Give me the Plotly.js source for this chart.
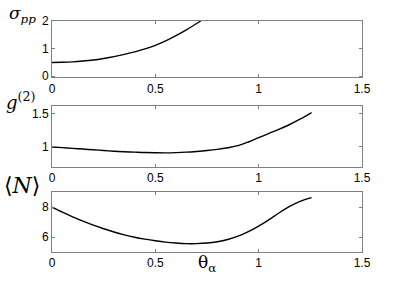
<!DOCTYPE html>
<html><head><meta charset="utf-8">
<script src="https://cdn.plot.ly/plotly-3.0.1.min.js"></script>
<style>html,body{margin:0;padding:0;background:#fff}#c{width:400px;height:284px}</style>
</head><body><div id="c"></div>
<script>
const thetaSigma = [0, 0.05, 0.1, 0.15, 0.2, 0.25, 0.3, 0.35, 0.4, 0.45, 0.5, 0.55, 0.6, 0.65, 0.7, 0.72];
const sigmaPP   = [0.5, 0.505, 0.52, 0.55, 0.59, 0.645, 0.71, 0.79, 0.88, 0.99, 1.12, 1.28, 1.47, 1.68, 1.91, 2.0];
const thetaG2   = [0, 0.05, 0.1, 0.15, 0.2, 0.25, 0.3, 0.35, 0.4, 0.45, 0.5, 0.55, 0.6, 0.65, 0.7, 0.75, 0.8, 0.85, 0.9, 0.95, 1.0, 1.05, 1.1, 1.15, 1.2, 1.256];
const g2        = [1.0, 0.99, 0.979, 0.968, 0.957, 0.946, 0.936, 0.928, 0.921, 0.915, 0.912, 0.911, 0.914, 0.921, 0.932, 0.946, 0.964, 0.988, 1.02, 1.075, 1.14, 1.205, 1.27, 1.34, 1.42, 1.52];
const thetaN    = [0, 0.05, 0.1, 0.15, 0.2, 0.25, 0.3, 0.35, 0.4, 0.45, 0.5, 0.55, 0.6, 0.65, 0.7, 0.75, 0.8, 0.85, 0.9, 0.95, 1.0, 1.05, 1.1, 1.15, 1.2, 1.256];
const meanN     = [8.0, 7.67, 7.36, 7.07, 6.8, 6.56, 6.34, 6.15, 5.99, 5.86, 5.75, 5.66, 5.6, 5.56, 5.56, 5.6, 5.69, 5.84, 6.06, 6.37, 6.74, 7.17, 7.63, 8.05, 8.39, 8.64];
const xTicks = [0, 0.5, 1, 1.5];
const xTickText = ['0', '0.5', '1', '1.5'];

const line = {color: '#000', width: 1.4, shape: 'spline', smoothing: 1};
const traces = [
  {x: thetaSigma, y: sigmaPP, xaxis: 'x', yaxis: 'y', mode: 'lines', line},
  {x: thetaG2, y: g2, xaxis: 'x2', yaxis: 'y2', mode: 'lines', line},
  {x: thetaN, y: meanN, xaxis: 'x3', yaxis: 'y3', mode: 'lines', line}
];
const ax = {showline: true, mirror: 'ticks', linecolor: '#808080', linewidth: 1,
  ticks: 'inside', ticklen: 3, tickcolor: '#808080', showgrid: false, zeroline: false,
  tickfont: {family: 'Liberation Sans, Arial', size: 12, color: '#000'}};
const xa = (anchor) => Object.assign({}, ax, {anchor, range: [0, 1.5], tickvals: xTicks, ticktext: xTickText});
const layout = {
  width: 400, height: 284, showlegend: false,
  paper_bgcolor: '#fff', plot_bgcolor: '#fff',
  margin: {l: 52, r: 38, t: 21, b: 32},
  xaxis: xa('y'), xaxis2: xa('y2'), xaxis3: xa('y3'),
  yaxis: Object.assign({}, ax, {anchor: 'x', domain: [0.756, 1], range: [-0.04, 2], tickvals: [0, 1, 2]}),
  yaxis2: Object.assign({}, ax, {anchor: 'x2', domain: [0.369, 0.632], range: [0.7, 1.62], tickvals: [1, 1.5], ticktext: ['1', '1.5']}),
  yaxis3: Object.assign({}, ax, {anchor: 'x3', domain: [0, 0.261], range: [5, 9.04], tickvals: [6, 8]}),
  annotations: [
    {xref: 'paper', yref: 'paper', x: -0.145, y: 1.03, xanchor: 'left', yanchor: 'middle', showarrow: false,
     text: '<i>σ</i><sub><i>pp</i></sub>', font: {family: 'DejaVu Serif, serif', size: 17, color: '#000'}},
    {xref: 'paper', yref: 'paper', x: -0.155, y: 0.655, xanchor: 'left', yanchor: 'middle', showarrow: false,
     text: '<i>g</i><sup>(2)</sup>', font: {family: 'DejaVu Serif, serif', size: 18, color: '#000'}},
    {xref: 'paper', yref: 'paper', x: -0.162, y: 0.29, xanchor: 'left', yanchor: 'middle', showarrow: false,
     text: '⟨<i>N</i>⟩', font: {family: 'DejaVu Serif, serif', size: 22, color: '#000'}},
    {xref: 'paper', yref: 'paper', x: 0.466, y: -0.05, xanchor: 'left', yanchor: 'middle', showarrow: false,
     text: 'θ<sub>α</sub>', font: {family: 'DejaVu Serif, serif', size: 17, color: '#000'}}
  ]
};
Plotly.newPlot('c', traces, layout, {staticPlot: true});
</script></body></html>
